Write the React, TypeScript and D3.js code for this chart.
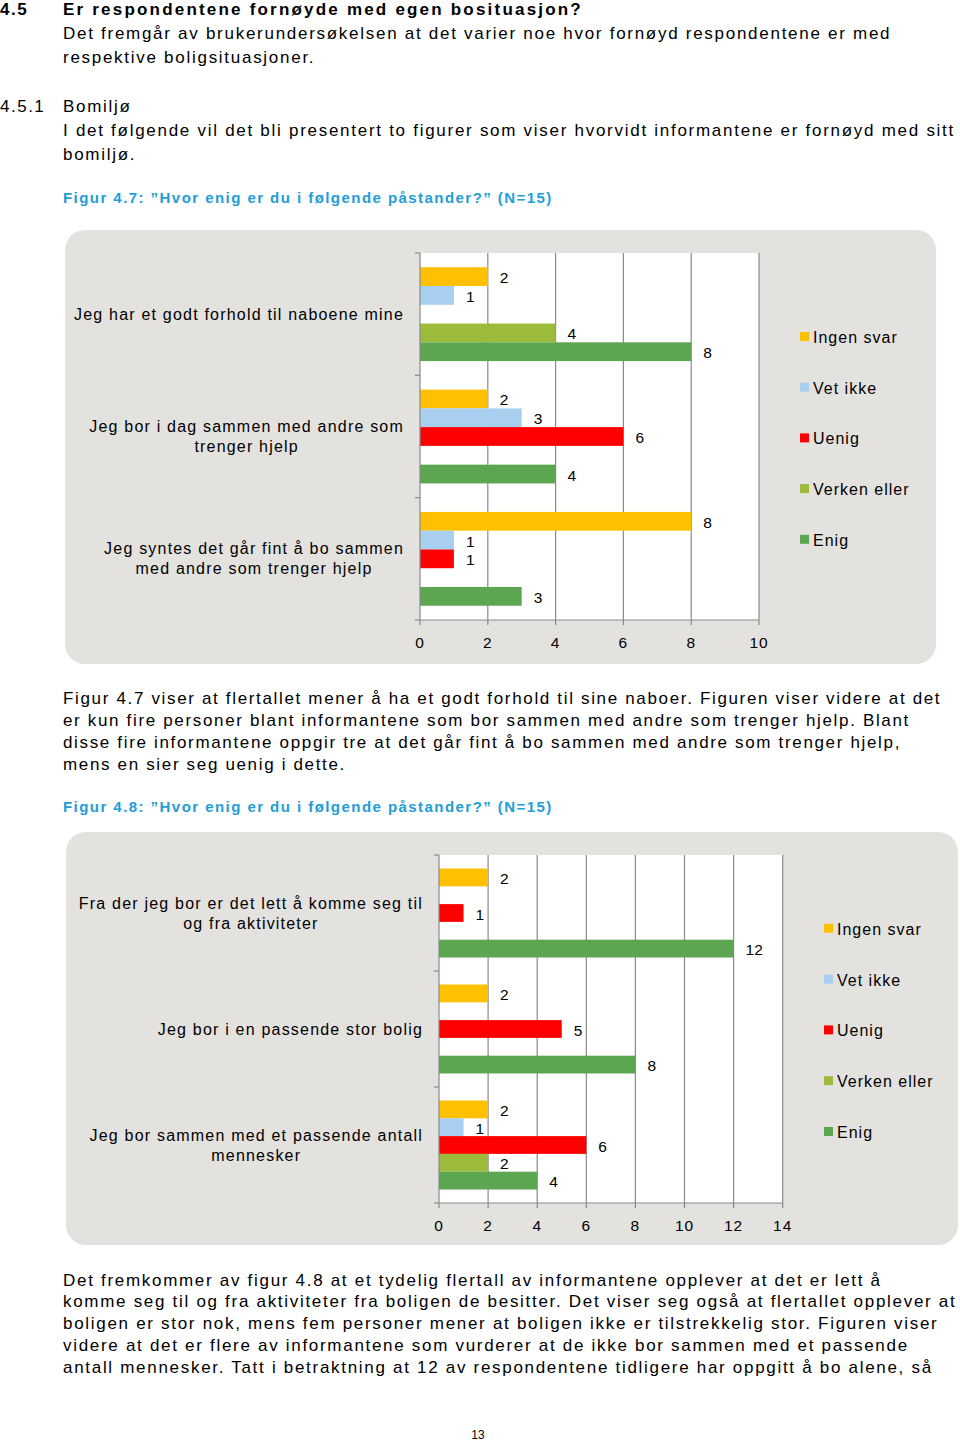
import React, { useEffect, useRef } from 'react';
import * as d3 from 'd3';

// ---------- Data ----------
const SERIES = ['Ingen svar', 'Vet ikke', 'Uenig', 'Verken eller', 'Enig'];
const SERIES_COLORS = ['#FFC000', '#A8CFF0', '#FF0000', '#9DBB3A', '#5CA551'];

const FIG7_CATEGORIES = [
  ['Jeg har et godt forhold til naboene mine'],
  ['Jeg bor i dag sammen med andre som', 'trenger hjelp'],
  ['Jeg syntes det går fint å bo sammen', 'med andre som trenger hjelp'],
];
const FIG7_INGEN_SVAR = [2, 2, 8];
const FIG7_VET_IKKE = [1, 3, 1];
const FIG7_UENIG = [0, 6, 1];
const FIG7_VERKEN_ELLER = [4, 0, 0];
const FIG7_ENIG = [8, 4, 3];
const FIG7_TICKS = [0, 2, 4, 6, 8, 10];

const FIG8_CATEGORIES = [
  ['Fra der jeg bor er det lett å komme seg til', 'og fra aktiviteter'],
  ['Jeg bor i en passende stor bolig'],
  ['Jeg bor sammen med et passende antall', 'mennesker'],
];
const FIG8_INGEN_SVAR = [2, 2, 2];
const FIG8_VET_IKKE = [0, 0, 1];
const FIG8_UENIG = [1, 5, 6];
const FIG8_VERKEN_ELLER = [0, 0, 2];
const FIG8_ENIG = [12, 8, 4];
const FIG8_TICKS = [0, 2, 4, 6, 8, 10, 12, 14];

// ---------- Page text ----------
const HEADING_NUM = '4.5';
const HEADING = 'Er respondentene fornøyde med egen bosituasjon?';
const INTRO = [
  'Det fremgår av brukerundersøkelsen at det varier noe hvor fornøyd respondentene er med',
  'respektive boligsituasjoner.',
];
const SUB_NUM = '4.5.1';
const SUB_LINES = [
  'Bomiljø',
  'I det følgende vil det bli presentert to figurer som viser hvorvidt informantene er fornøyd med sitt',
  'bomiljø.',
];
const CAPTION7 = 'Figur 4.7: ”Hvor enig er du i følgende påstander?” (N=15)';
const PARA7 = [
  'Figur 4.7 viser at flertallet mener å ha et godt forhold til sine naboer. Figuren viser videre at det',
  'er kun fire personer blant informantene som bor sammen med andre som trenger hjelp. Blant',
  'disse fire informantene oppgir tre at det går fint å bo sammen med andre som trenger hjelp,',
  'mens en sier seg uenig i dette.',
];
const CAPTION8 = 'Figur 4.8: ”Hvor enig er du i følgende påstander?” (N=15)';
const PARA8 = [
  'Det fremkommer av figur 4.8 at et tydelig flertall av informantene opplever at det er lett å',
  'komme seg til og fra aktiviteter fra boligen de besitter. Det viser seg også at flertallet opplever at',
  'boligen er stor nok, mens fem personer mener at boligen ikke er tilstrekkelig stor. Figuren viser',
  'videre at det er flere av informantene som vurderer at de ikke bor sammen med et passende',
  'antall mennesker. Tatt i betraktning at 12 av respondentene tidligere har oppgitt å bo alene, så',
];
const PAGE_NUM = '13';

const FONT = '"Liberation Sans", Arial, sans-serif';
const CAPTION_COLOR = '#239DD6';

type ChartCfg = {
  categories: string[][];
  values: number[][];
  ticks: number[];
  panel: { x: number; y: number; w: number; h: number };
  plot: { left: number; right: number; top: number; bottom: number };
  legend: { x: number; y: number; step: number };
};

function drawChart(root: d3.Selection<SVGGElement, unknown, null, undefined>, cfg: ChartCfg) {
  const g = root.append('g');
  const { panel, plot, legend } = cfg;
  g.append('rect')
    .attr('x', panel.x).attr('y', panel.y)
    .attr('width', panel.w).attr('height', panel.h)
    .attr('rx', 20).attr('ry', 20)
    .attr('fill', '#E4E2DF');

  const maxV = cfg.ticks[cfg.ticks.length - 1];
  const x = d3.scaleLinear().domain([0, maxV]).range([plot.left, plot.right]);
  const catIdx = cfg.categories.map((_, i) => String(i));
  const y = d3.scaleBand().domain(catIdx).range([plot.top, plot.bottom]).padding(0);
  const ySub = d3.scaleBand().domain(SERIES).range([0, y.bandwidth()])
    .paddingInner(0).paddingOuter(0.76);

  // plot background
  g.append('rect')
    .attr('x', plot.left).attr('y', plot.top)
    .attr('width', plot.right - plot.left).attr('height', plot.bottom - plot.top)
    .attr('fill', '#FFFFFF');

  // gridlines
  g.append('g').selectAll('line').data(cfg.ticks.filter(t => t > 0)).join('line')
    .attr('x1', d => x(d)).attr('x2', d => x(d))
    .attr('y1', plot.top).attr('y2', plot.bottom)
    .attr('stroke', '#8A8A8A').attr('stroke-width', 1.2);

  // bars
  cfg.categories.forEach((_, ci) => {
    const cy = y(String(ci))!;
    SERIES.forEach((s, si) => {
      const v = cfg.values[si][ci];
      if (!v) return;
      const by = cy + ySub(s)!;
      g.append('rect')
        .attr('x', x(0)).attr('y', by)
        .attr('width', x(v) - x(0)).attr('height', ySub.bandwidth())
        .attr('fill', SERIES_COLORS[si]);
      g.append('text')
        .attr('x', x(v) + 12).attr('y', by + ySub.bandwidth() / 2 + 1)
        .attr('dominant-baseline', 'central')
        .attr('font-family', FONT).attr('font-size', 15.5)
        .attr('fill', '#000')
        .text(String(v));
    });
  });

  // axes
  const axisColor = '#8A8A8A';
  g.append('line')
    .attr('x1', plot.left).attr('x2', plot.left)
    .attr('y1', plot.top).attr('y2', plot.bottom)
    .attr('stroke', axisColor).attr('stroke-width', 1.2);
  const catEdges = [...catIdx.map(c => y(c)!), plot.bottom];
  g.append('g').selectAll('line').data(catEdges).join('line')
    .attr('x1', plot.left - 5).attr('x2', plot.left)
    .attr('y1', d => d).attr('y2', d => d)
    .attr('stroke', axisColor).attr('stroke-width', 1.2);
  g.append('line')
    .attr('x1', plot.left).attr('x2', plot.right)
    .attr('y1', plot.bottom).attr('y2', plot.bottom)
    .attr('stroke', axisColor).attr('stroke-width', 1.2);
  g.append('g').selectAll('line').data(cfg.ticks).join('line')
    .attr('x1', d => x(d)).attr('x2', d => x(d))
    .attr('y1', plot.bottom).attr('y2', plot.bottom + 5)
    .attr('stroke', axisColor).attr('stroke-width', 1.2);
  g.append('g').selectAll('text').data(cfg.ticks).join('text')
    .attr('x', d => x(d)).attr('y', plot.bottom + 22)
    .attr('text-anchor', 'middle').attr('dominant-baseline', 'central')
    .attr('font-family', FONT).attr('font-size', 15.5)
    .attr('letter-spacing', 1)
    .attr('fill', '#000')
    .text(d => String(d));

  // category labels
  cfg.categories.forEach((lines, ci) => {
    const cy = y(String(ci))! + y.bandwidth() / 2;
    const lg = g.append('g');
    const t = lg.append('text')
      .attr('font-family', FONT).attr('font-size', 16)
      .attr('letter-spacing', 1.2)
      .attr('text-anchor', 'middle').attr('fill', '#000');
    lines.forEach((ln, li) => {
      t.append('tspan')
        .attr('x', 0)
        .attr('y', (li - (lines.length - 1) / 2) * 20)
        .attr('dominant-baseline', 'central')
        .text(ln);
    });
    const bb = (lg.node() as SVGGElement).getBBox();
    const right = plot.left - 16;
    lg.attr('transform', `translate(${right - (bb.x + bb.width)},${cy})`);
  });

  // legend
  SERIES.forEach((s, si) => {
    const ly = legend.y + si * legend.step;
    g.append('rect')
      .attr('x', legend.x).attr('y', ly - 4.5)
      .attr('width', 9).attr('height', 9)
      .attr('fill', SERIES_COLORS[si]);
    g.append('text')
      .attr('x', legend.x + 13).attr('y', ly + 1)
      .attr('dominant-baseline', 'central')
      .attr('font-family', FONT).attr('font-size', 16)
      .attr('letter-spacing', 1)
      .attr('fill', '#000')
      .text(s);
  });
}

function drawText(root: d3.Selection<SVGGElement, unknown, null, undefined>,
  str: string, xPos: number, yPos: number, opts: { size?: number; bold?: boolean; spacing?: number; color?: string; anchor?: string } = {}) {
  root.append('text')
    .attr('x', xPos).attr('y', yPos)
    .attr('dominant-baseline', 'central')
    .attr('font-family', FONT)
    .attr('font-size', opts.size ?? 17)
    .attr('font-weight', opts.bold ? 'bold' : 'normal')
    .attr('letter-spacing', opts.spacing ?? 0)
    .attr('text-anchor', opts.anchor ?? 'start')
    .attr('fill', opts.color ?? '#000')
    .text(str);
}

export default function App() {
  const ref = useRef<SVGSVGElement | null>(null);
  useEffect(() => {
    const svg = d3.select(ref.current!);
    svg.selectAll('*').remove();
    const root = svg.append('g') as d3.Selection<SVGGElement, unknown, null, undefined>;

    // page text
    const L = 63;
    const SP = 1.72;
    drawText(root, HEADING_NUM, 0, 9, { bold: true, spacing: 1.5 });
    drawText(root, HEADING, L, 9, { bold: true, spacing: 2.2 });
    INTRO.forEach((ln, i) => drawText(root, ln, L, 33 + i * 24, { spacing: SP }));
    drawText(root, SUB_NUM, 0, 106, { spacing: 1.5 });
    SUB_LINES.forEach((ln, i) => drawText(root, ln, L, 106 + i * 24, { spacing: SP }));
    drawText(root, CAPTION7, L, 197, { bold: true, size: 15, spacing: 1.45, color: CAPTION_COLOR });
    PARA7.forEach((ln, i) => drawText(root, ln, L, 698 + i * 22, { spacing: 1.66 }));
    drawText(root, CAPTION8, L, 806, { bold: true, size: 15, spacing: 1.45, color: CAPTION_COLOR });
    PARA8.forEach((ln, i) => drawText(root, ln, L, 1280 + i * 21.8, { spacing: 1.7 }));
    drawText(root, PAGE_NUM, 478, 1435, { size: 12, anchor: 'middle' });

    drawChart(root, {
      categories: FIG7_CATEGORIES,
      values: [FIG7_INGEN_SVAR, FIG7_VET_IKKE, FIG7_UENIG, FIG7_VERKEN_ELLER, FIG7_ENIG],
      ticks: FIG7_TICKS,
      panel: { x: 65, y: 230, w: 871, h: 434 },
      plot: { left: 420, right: 759, top: 253, bottom: 620 },
      legend: { x: 800, y: 336.5, step: 50.7 },
    });
    drawChart(root, {
      categories: FIG8_CATEGORIES,
      values: [FIG8_INGEN_SVAR, FIG8_VET_IKKE, FIG8_UENIG, FIG8_VERKEN_ELLER, FIG8_ENIG],
      ticks: FIG8_TICKS,
      panel: { x: 66, y: 832, w: 892, h: 413 },
      plot: { left: 439, right: 782.7, top: 855, bottom: 1203 },
      legend: { x: 824, y: 928.3, step: 50.8 },
    });
  }, []);

  return (
    <svg ref={ref} width={960} height={1442}
      style={{ position: 'absolute', left: 0, top: 0, background: '#fff' }} />
  );
}
